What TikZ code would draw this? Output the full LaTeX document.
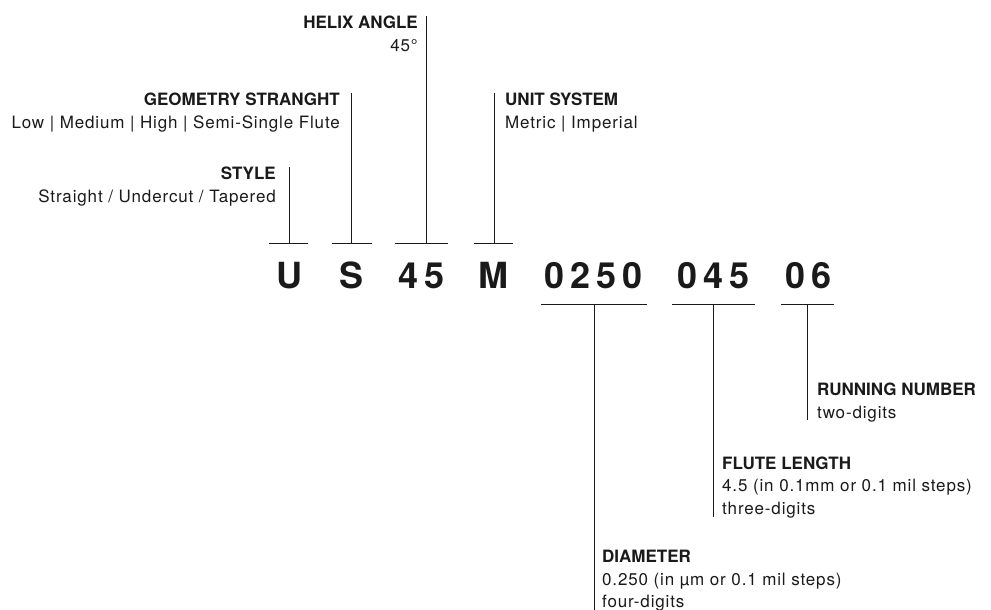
\documentclass[tikz,border=0pt]{standalone}
\usepackage{fontspec}
\setmainfont{TeX Gyre Heros}[UprightFeatures={LetterSpace=5}]
\newfontfamily\bigfont{TeX Gyre Heros}
\definecolor{ink}{HTML}{1A1A1A}
\begin{document}
\begin{tikzpicture}[x=1pt,y=-1pt,
  lbl/.style={inner sep=0pt, font=\fontsize{17}{22.5}\selectfont, text=ink},
  lblL/.style={lbl, align=right, anchor=north east},
  lblR/.style={lbl, align=left, anchor=north west},
  big/.style={inner sep=0pt, font=\bigfont\fontsize{36}{36}\selectfont\bfseries, text=ink, anchor=base},
  ln/.style={draw=ink, line width=1pt}]
\useasboundingbox (0,0) rectangle (991,610);

% code characters
\node[big] (U) at (289,288) {U};
\node[big] (S) at (352,288) {S};
\node[big] (H) at (421.5,288) {4\kern6pt5};
\node[big] (M) at (493.5,288) {M};
\node[big] (D) at (593.5,288) {0\kern6pt2\kern6pt5\kern6pt0};
\node[big] (F) at (713.5,288) {0\kern6pt4\kern6pt5};
\node[big] (R) at (808.5,288) {0\kern6pt6};

% labels
\node[lblL] (style) at (276,167) {\textbf{STYLE}\\Straight / Undercut / Tapered};
\node[lblL] (geom) at (340,93) {\textbf{GEOMETRY STRANGHT}\\Low | Medium | High | Semi-Single Flute};
\node[lblL] (helix) at (418,16) {\textbf{HELIX ANGLE}\\45°};
\node[lblR] (unit) at (505,93) {\textbf{UNIT SYSTEM}\\Metric | Imperial};
\node[lblR] (run) at (817,383) {\textbf{RUNNING NUMBER}\\two-digits};
\node[lblR] (flute) at (722,456.5) {\textbf{FLUTE LENGTH}\\4.5 (in 0.1mm or 0.1 mil steps)\\three-digits};
\node[lblR] (diam) at (602,550) {\textbf{DIAMETER}\\0.250 (in µm or 0.1 mil steps)\\four-digits};

% bars above
\coordinate (uL) at (269,243.5); \coordinate (uR) at (308,243.5); \coordinate (uF) at (289,243.5);
\coordinate (sL) at (332,243.5); \coordinate (sR) at (372,243.5); \coordinate (sF) at (351,243.5);
\coordinate (hL) at (395,243.5); \coordinate (hR) at (448,243.5); \coordinate (hF) at (426,243.5);
\coordinate (mL) at (474,243.5); \coordinate (mR) at (513,243.5); \coordinate (mF) at (494,243.5);
% bars below
\coordinate (dL) at (541,304); \coordinate (dR) at (647,304); \coordinate (dF) at (594,304);
\coordinate (fL) at (672,304); \coordinate (fR) at (755,304); \coordinate (fF) at (713.5,304);
\coordinate (rL) at (781,304); \coordinate (rR) at (834,304); \coordinate (rF) at (807,304);

\foreach \b in {u,s,h,m,d,f,r} {\draw[ln] (\b L) -- (\b R);}

% connectors
\draw[ln] (uF) -- (uF |- style.north);
\draw[ln] (sF) -- (sF |- geom.north);
\draw[ln] (hF) -- (hF |- helix.north);
\draw[ln] (mF) -- (mF |- unit.north);
\draw[ln] (dF) -- ([yshift=2pt]dF |- diam.south);
\draw[ln] (fF) -- ([yshift=1pt]fF |- flute.south);
\draw[ln] (rF) -- ([yshift=2pt]rF |- run.south);
\end{tikzpicture}
\end{document}
